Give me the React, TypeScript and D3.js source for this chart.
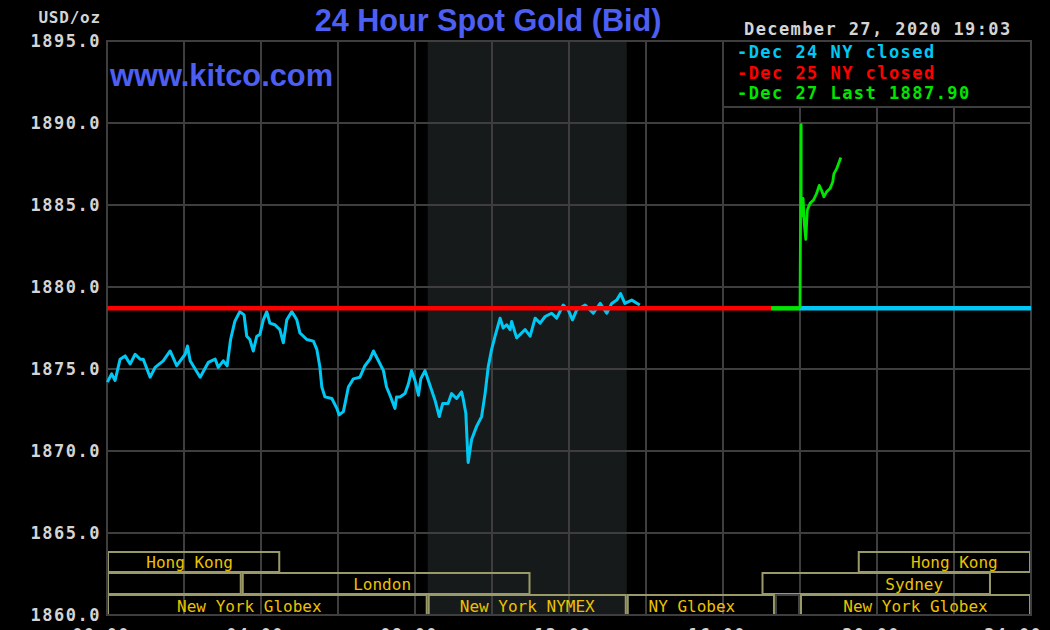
import React from "react";
import * as d3 from "d3";

// ---------- DATA ----------
const priceTicks = [1895, 1890, 1885, 1880, 1875, 1870, 1865, 1860];
const hourTicks = [0, 4, 8, 12, 16, 20, 24];
const hourTickLabels = ["00:00", "04:00", "08:00", "12:00", "16:00", "20:00", "24:00"];

const prevClose = 1878.7; // Dec 24 NY close level
const redEndHour = 17.25; // Dec 25 line ends
const openHour = 18.0; // Dec 27 open

// Dec 24 intraday [hour, price]
const dec24Series: [number, number][] = [
  [0.01, 1874.2], [0.12, 1874.7], [0.21, 1874.3], [0.34, 1875.6], [0.47, 1875.8],
  [0.6, 1875.3], [0.73, 1875.9], [0.86, 1875.6], [0.94, 1875.6], [1.12, 1874.5],
  [1.25, 1875.1], [1.46, 1875.5], [1.64, 1876.1], [1.81, 1875.2], [2.03, 1875.9],
  [2.09, 1876.4], [2.16, 1875.5], [2.42, 1874.5], [2.63, 1875.4], [2.81, 1875.6],
  [2.89, 1875.1], [3.02, 1875.5], [3.12, 1875.2], [3.21, 1876.8], [3.32, 1877.9],
  [3.45, 1878.5], [3.56, 1878.3], [3.63, 1877.0], [3.71, 1876.8], [3.8, 1876.1],
  [3.89, 1877.0], [3.97, 1877.1], [4.06, 1878.0], [4.15, 1878.5], [4.23, 1877.8],
  [4.36, 1877.7], [4.49, 1877.4], [4.58, 1876.6], [4.67, 1878.0], [4.8, 1878.5],
  [4.93, 1878.0], [5.01, 1877.2], [5.19, 1876.8], [5.36, 1876.7], [5.45, 1876.2],
  [5.53, 1875.1], [5.58, 1873.9], [5.66, 1873.3], [5.84, 1873.2], [5.97, 1872.6],
  [6.03, 1872.2], [6.14, 1872.4], [6.27, 1873.9], [6.4, 1874.4], [6.57, 1874.5],
  [6.7, 1875.2], [6.83, 1875.6], [6.92, 1876.1], [7.05, 1875.5], [7.18, 1874.9],
  [7.26, 1873.9], [7.35, 1873.4], [7.48, 1872.6], [7.52, 1873.3], [7.61, 1873.3],
  [7.74, 1873.5], [7.83, 1874.1], [7.91, 1874.9], [8.0, 1874.3], [8.09, 1873.4],
  [8.15, 1874.4], [8.26, 1874.9], [8.39, 1874.0], [8.52, 1873.1], [8.63, 1872.1],
  [8.72, 1872.9], [8.86, 1872.9], [8.95, 1873.5], [9.08, 1873.2], [9.21, 1873.6],
  [9.25, 1873.2], [9.32, 1872.3], [9.38, 1869.3], [9.47, 1870.7], [9.6, 1871.5],
  [9.73, 1872.1], [9.82, 1873.5], [9.9, 1875.1], [9.99, 1876.2], [10.08, 1877.0],
  [10.21, 1878.1], [10.29, 1877.5], [10.38, 1877.7], [10.47, 1877.4], [10.51, 1877.9],
  [10.64, 1876.9], [10.86, 1877.4], [10.99, 1877.0], [11.12, 1878.1], [11.25, 1877.8],
  [11.38, 1878.2], [11.55, 1878.4], [11.68, 1878.1], [11.85, 1878.9], [11.98, 1878.6],
  [12.09, 1878.0], [12.2, 1878.6], [12.42, 1878.9], [12.63, 1878.4], [12.81, 1879.0],
  [12.98, 1878.4], [13.11, 1879.0], [13.24, 1879.2], [13.34, 1879.6], [13.45, 1879.0],
  [13.63, 1879.2], [13.84, 1878.9],
];

// Dec 27 intraday [hour, price]
const dec27Series: [number, number][] = [
  [18.0, 1878.7], [18.03, 1889.9], [18.03, 1884.3], [18.08, 1885.4], [18.11, 1883.9],
  [18.15, 1882.9], [18.19, 1884.7], [18.26, 1885.1], [18.35, 1885.3], [18.43, 1885.7],
  [18.5, 1886.2], [18.56, 1885.9], [18.62, 1885.5], [18.69, 1885.8], [18.78, 1886.0],
  [18.85, 1886.4], [18.88, 1886.9], [18.95, 1887.2], [19.06, 1887.9],
];

const legendLabels = ["-Dec 24 NY closed", "-Dec 25 NY closed", "-Dec 27 Last 1887.90"];
const nyHours: [number, number] = [8.33, 13.5];

const sessionNames = ["Hong Kong", "Hong Kong", "", "London", "Sydney", "New York Globex", "New York NYMEX", "NY Globex", "", "New York Globex"];
const sessionRows = [0, 0, 1, 1, 1, 2, 2, 2, 2, 2];
const sessionStart = [0, 19.5, 0, 3.5, 17.0, 0, 8.33, 13.5, 17.35, 18.0];
const sessionEnd = [4.5, 24, 3.5, 11.0, 22.96, 8.33, 13.5, 17.35, 18.0, 24];
const sessionClosed = [false, false, false, false, false, false, false, false, true, false];

// ---------- STYLE ----------
const W = 1050;
const H = 630;
const PL = 107, PR = 1031, PT = 41, PB = 615;
const COL_CYAN = "#00c8f4";
const COL_RED = "#ff0000";
const COL_GREEN = "#00e600";
const COL_GRID = "#3e3e3e";
const COL_TEXT = "#d4d4d4";
const COL_BLUE = "#4d5ff2";
const COL_BOX = "#9a9a68";
const COL_GOLD = "#ecc200";
const MONO = "'DejaVu Sans Mono', 'Liberation Mono', monospace";
const SANS = "'Liberation Sans', Arial, sans-serif";
const labelNudge = [-4, 10, 0, -4, 38, -18, 0, -9, 0, 0];

export default function App() {
  const x = d3.scaleLinear().domain([0, 24]).range([PL, PR]);
  const y = d3.scaleLinear().domain([1860, 1895]).range([PB, PT]);
  const line = d3
    .line<[number, number]>()
    .x((d) => x(d[0]))
    .y((d) => y(d[1]));

  const vGrid = d3.range(0, 25, 2);
  const rowTop = [552, 573, 595];
  const rowH = [20, 21, 20];
  const rowBase = [568, 590, 612];

  return (
    <div style={{ position: "fixed", left: 0, top: 0, width: W, height: H, background: "#000" }}>
      <svg width={W} height={H} style={{ display: "block" }}>
        <rect x={0} y={0} width={W} height={H} fill="#000" />
        {/* NY trading hours shading */}
        <rect x={x(nyHours[0])} y={PT} width={x(nyHours[1]) - x(nyHours[0])} height={PB - PT} fill="#171a1a" />
        {/* grid */}
        {vGrid.map((h) => (
          <line key={"v" + h} x1={x(h)} x2={x(h)} y1={PT} y2={PB} stroke={COL_GRID} strokeWidth={2} />
        ))}
        {priceTicks.map((p) => (
          <line key={"h" + p} x1={PL} x2={PR} y1={y(p)} y2={y(p)} stroke={COL_GRID} strokeWidth={2} />
        ))}
        {/* y labels */}
        {priceTicks.map((p) => (
          <text key={"yl" + p} x={101} y={y(p) + 6} textAnchor="end" fill={COL_TEXT} fontFamily={MONO} fontWeight="bold" fontSize={17} letterSpacing={1.5}>
            {d3.format(".1f")(p)}
          </text>
        ))}
        <text x={101} y={23} textAnchor="end" fill={COL_TEXT} fontFamily={MONO} fontWeight="bold" fontSize={16} letterSpacing={0.8}>
          USD/oz
        </text>
        {/* x labels (mostly below the visible area, as in the original) */}
        {hourTicks.map((h, i) => (
          <text key={"xl" + h} x={i === hourTicks.length - 1 ? 1042 : x(h) - 6} y={641} textAnchor={i === hourTicks.length - 1 ? "end" : "middle"} fill={COL_TEXT} fontFamily={MONO} fontWeight="bold" fontSize={17} letterSpacing={1.3}>
            {hourTickLabels[i]}
          </text>
        ))}
        {/* sessions */}
        {sessionNames.map((name, i) => {
          const r = sessionRows[i];
          const x0 = x(sessionStart[i]);
          const x1 = x(sessionEnd[i]);
          return (
            <g key={"s" + i}>
              <rect x={x0 + 1} y={rowTop[r]} width={x1 - x0 - 2} height={rowH[r]} fill="none" stroke={sessionClosed[i] ? "#444" : COL_BOX} strokeWidth={2} />
              {name && (
                <text x={(x0 + x1) / 2 + labelNudge[i]} y={rowBase[r]} textAnchor="middle" fill={COL_GOLD} fontFamily={MONO} fontSize={16}>
                  {name}
                </text>
              )}
            </g>
          );
        })}
        {/* plot border */}
        <rect x={PL} y={PT} width={PR - PL} height={PB - PT} fill="none" stroke={COL_GRID} strokeWidth={2} />
        {/* Dec 24 series */}
        <path d={line(dec24Series) || ""} fill="none" stroke={COL_CYAN} strokeWidth={3} strokeLinejoin="round" />
        {/* flat lines */}
        <line x1={x(0)} x2={x(redEndHour)} y1={y(prevClose)} y2={y(prevClose)} stroke={COL_RED} strokeWidth={4.5} />
        <line x1={x(redEndHour)} x2={x(openHour)} y1={y(prevClose)} y2={y(prevClose)} stroke={COL_GREEN} strokeWidth={4.5} />
        <line x1={x(openHour)} x2={x(24)} y1={y(prevClose)} y2={y(prevClose)} stroke={COL_CYAN} strokeWidth={4.5} />
        {/* Dec 27 series */}
        <path d={line(dec27Series) || ""} fill="none" stroke={COL_GREEN} strokeWidth={2.8} strokeLinejoin="round" />
        {/* legend */}
        <rect x={723} y={PT} width={PR - 723} height={107 - PT} fill="#000" stroke={COL_GRID} strokeWidth={2} />
        {legendLabels.map((t, i) => (
          <text key={"lg" + i} x={737} y={58 + i * 20.5} fill={[COL_CYAN, COL_RED, COL_GREEN][i]} fontFamily={MONO} fontWeight="bold" fontSize={17} letterSpacing={1.45}>
            {t}
          </text>
        ))}
        {/* titles */}
        <text x={488} y={31} textAnchor="middle" fill={COL_BLUE} fontFamily={SANS} fontWeight="bold" fontSize={30.6}>
          24 Hour Spot Gold (Bid)
        </text>
        <text x={110} y={86} fill={COL_BLUE} fontFamily={SANS} fontWeight="bold" fontSize={30.8}>
          www.kitco.com
        </text>
        <text x={744} y={35} fill={COL_TEXT} fontFamily={MONO} fontWeight="bold" fontSize={17} letterSpacing={1.4}>
          December 27, 2020 19:03
        </text>
      </svg>
    </div>
  );
}
